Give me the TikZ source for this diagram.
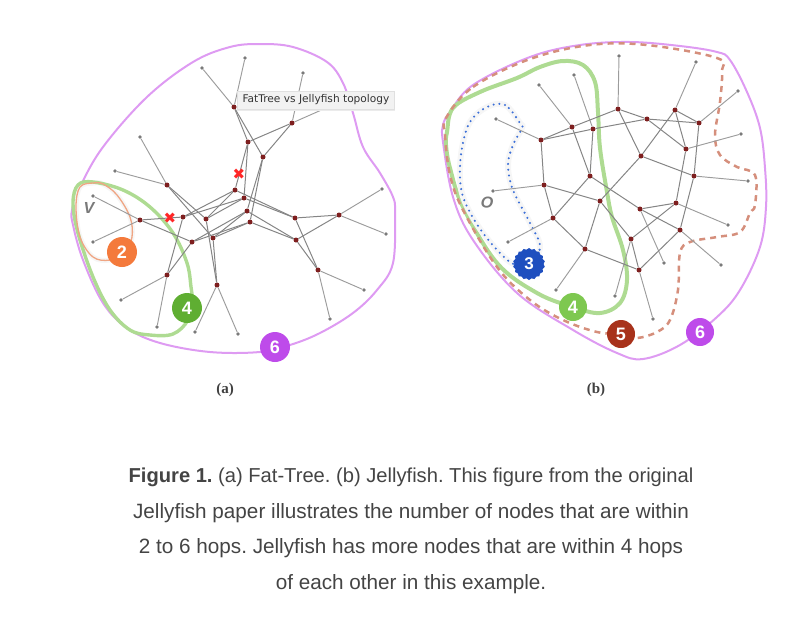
\documentclass[tikz,border=0pt]{standalone}
\usepackage{fontspec}
\setmainfont{Liberation Sans}
\newfontfamily\serifcap{Liberation Serif}
\newfontfamily\tipfont{DejaVu Sans}
\usetikzlibrary{shapes.geometric,shadows}
\frenchspacing
\definecolor{edgegray}{HTML}{858585}
\definecolor{leaflink}{HTML}{9C9C9C}
\definecolor{leafgray}{HTML}{7A7A7A}
\definecolor{coredot}{HTML}{7E1F1F}
\definecolor{hopviolet}{HTML}{DE9BF2}
\definecolor{hopgreen}{HTML}{AEDB92}
\definecolor{hoporange}{HTML}{EFA583}
\definecolor{hopbrown}{HTML}{D58F7C}
\definecolor{hopblue}{HTML}{3B6FD8}
\definecolor{softhalo}{HTML}{F6F6F6}
\definecolor{captext}{HTML}{444444}
\definecolor{bOrange}{HTML}{F47A3C}
\definecolor{bGreenA}{HTML}{5FAE32}
\definecolor{bGreenB}{HTML}{7EC850}
\definecolor{bViolet}{HTML}{BE4BEA}
\definecolor{bBlue}{HTML}{1F4FBF}
\definecolor{bBrown}{HTML}{A8321B}
\tikzset{
  x=1pt,y=-1pt,
  coresw/.style={circle,fill=coredot,inner sep=0pt,minimum size=5pt},
  leafsw/.style={circle,fill=leafgray,inner sep=0pt,minimum size=3.8pt},
  link/.style={draw=edgegray,line width=1pt},
  leaflinkline/.style={draw=leaflink,line width=0.95pt},
  badge/.style={circle,inner sep=0pt,minimum size=#1,text=white,font=\bfseries\fontsize{18}{18}\selectfont},
  badge/.default=30pt,
  hoplabel/.style={text=leafgray,font=\itshape\bfseries\fontsize{16}{16}\selectfont},
  subcap/.style={text=black!75,font=\serifcap\bfseries\fontsize{15}{15}\selectfont},
  capline/.style={anchor=base,text=captext,font=\fontsize{20.7}{22}\selectfont},
  capfirst/.style={capline,font=\fontsize{20.15}{22}\selectfont},
  crossmark/.style={text=red!85!white,font=\bfseries\fontsize{15}{15}\selectfont},
  tipbox/.style={draw=black!12,fill=black!5,inner xsep=5pt,inner ysep=0pt,minimum height=18pt,
    font=\tipfont\fontsize{10.6}{12}\selectfont,text=black!80,
    copy shadow={shadow xshift=0pt,shadow yshift=-1pt,draw=black!8,fill=black!8}},
}
\begin{document}
\begin{tikzpicture}
\useasboundingbox (0,0) rectangle (796,619);
% ---------- hop regions (a)
\draw[hopviolet,line width=2pt] plot[smooth cycle,tension=0.6] coordinates {
 (72,210)(80,187)(103,147)(147,97)(193,62)(230,47)(260,44)(293,47)(327,62)(343,83)(353,113)(363,147)(380,173)(393,197)(395,213)(393,263)(377,290)(353,313)(320,333)(290,345)(260,352)(210,352)(160,343)(127,328)(103,303)(83,260)(73,225)};
\draw[softhalo,line width=5pt] plot[smooth cycle,tension=0.6] coordinates {
 (93,183)(80,187)(76,207)(80,237)(93,257)(110,260)(125,252)(132,237)(130,217)(117,195)(103,184)};
\draw[hopgreen,line width=3.4pt] plot[smooth cycle,tension=0.6] coordinates {
 (191,287)(187,263)(173,233)(150,207)(123,190)(93,182)(78,185)(73,203)(78,233)(93,277)(110,310)(130,330)(150,335)(173,334)(188,320)(192,300)};
\draw[hoporange,line width=1.3pt] plot[smooth cycle,tension=0.6] coordinates {
 (93,183)(80,187)(76,207)(80,237)(93,257)(110,260)(125,252)(132,237)(130,217)(117,195)(103,184)};
% ---------- hop regions (b)
\draw[hopviolet,line width=2pt] plot[smooth cycle,tension=0.6] coordinates {
 (443,125)(450,112)(473,85)(530,57)(580,45)(630,42)(680,46)(717,52)(730,60)(747,92)(760,128)(765,168)(766,207)(760,247)(740,290)(717,317)(680,345)(643,359)(617,353)(573,330)(517,293)(473,240)(453,197)(443,142)};
\draw[hopgreen,line width=4pt] plot[smooth cycle,tension=0.6] coordinates {
 (447,132)(453,108)(480,92)(517,78)(540,67)(563,61)(583,65)(595,82)(598,112)(600,148)(607,192)(612,217)(623,250)(627,280)(620,303)(600,313)(573,307)(537,293)(497,263)(463,207)(450,168)(446,145)};
\draw[hopbrown,line width=2.5pt,dash pattern=on 6pt off 5pt] plot[smooth cycle,tension=0.6] coordinates {
 (446,118)(473,87)(530,59)(590,45)(647,45)(717,58)(722,72)(720,102)(715,135)(720,155)(737,167)(755,175)(755,205)(750,213)(740,232)(717,237)(690,242)(680,253)(678,290)(670,320)(657,332)(637,338)(621,334)(597,332)(563,320)(530,300)(497,267)(463,210)(450,175)(445,135)};
\draw[softhalo,line width=6pt] plot[smooth cycle,tension=0.6] coordinates {
 (520,123)(505,105)(487,107)(470,122)(462,148)(460,178)(465,202)(483,233)(510,262)(529,264)(540,247)(530,223)(513,190)(508,165)(513,145)(522,128)};
\draw[hopblue,line width=2.3pt,line cap=round,dash pattern=on 0pt off 5.8pt] plot[smooth cycle,tension=0.6] coordinates {
 (520,123)(505,105)(487,107)(470,122)(462,148)(460,178)(465,202)(483,233)(510,262)(529,264)(540,247)(530,223)(513,190)(508,165)(513,145)(522,128)};
% ---------- switches (a)
\foreach \n/\x/\y in {a1/234/107,a2/292/123,a3/248/142,a4/263/157,a5/167/185,a6/235/190,a7/244/198,a8/247/211,a9/250/222,a10/206/219,a11/183/217,a12/140/220,a13/192/242,a14/213/238,a15/295/218,a16/296/240,a17/339/215,a18/318/270,a19/167/275,a20/217/285}
  \node[coresw] (\n) at (\x,\y) {};
\foreach \n/\x/\y in {p1/202/68,p2/245/58,p3/303/73,p4/326/108,p5/140/137,p6/115/171,p7/93/196,p8/93/242,p9/121/300,p10/157/327,p11/195/332,p12/238/334,p13/330/319,p14/364/290,p15/386/234,p16/382/189}
  \node[leafsw] (\n) at (\x,\y) {};
\foreach \s/\t in {a1/p1,a1/p2,a2/p3,a2/p4,a5/p5,a5/p6,a12/p7,a12/p8,a19/p9,a19/p10,a20/p11,a20/p12,a18/p13,a18/p14,a17/p15,a17/p16}
  \draw[leaflinkline] (\s) -- (\t);
\foreach \s/\t in {a1/a3,a1/a4,a2/a3,a2/a4,a3/a6,a3/a7,a4/a8,a4/a9,a5/a10,a5/a14,a12/a11,a12/a13,
  a11/a6,a11/a7,a10/a6,a10/a7,a13/a8,a13/a9,a14/a8,a14/a9,
  a6/a15,a7/a15,a8/a16,a9/a16,a15/a17,a16/a17,a15/a18,a16/a18,a11/a19,a13/a19,a10/a20,a14/a20}
  \draw[link] (\s) -- (\t);
% ---------- switches (b)
\foreach \n/\x/\y in {b1/618/109,b2/647/119,b3/675/110,b4/699/123,b5/572/127,b6/593/129,b7/541/140,b8/686/149,b9/641/156,b10/590/176,b11/694/176,b12/544/185,b13/600/201,b14/676/203,b15/640/209,b16/553/218,b17/680/230,b18/631/239,b19/585/249,b20/639/270}
  \node[coresw] (\n) at (\x,\y) {};
\foreach \n/\x/\y in {m1/619/56,m2/696/62,m3/738/91,m4/741/134,m5/748/181,m6/574/75,m7/539/85,m8/496/119,m9/493/191,m10/728/225,m11/721/265,m12/664/263,m13/653/319,m14/615/296,m15/556/290,m16/508/242}
  \node[leafsw] (\n) at (\x,\y) {};
\foreach \s/\t in {b1/m1,b3/m2,b4/m3,b8/m4,b11/m5,b6/m6,b5/m7,b7/m8,b12/m9,b14/m10,b17/m11,b15/m12,b20/m13,b18/m14,b19/m15,b16/m16}
  \draw[leaflinkline] (\s) -- (\t);
\foreach \s/\t in {b7/b5,b7/b6,b5/b1,b6/b2,b1/b2,b2/b4,b1/b9,b3/b4,b3/b8,b3/b9,b2/b8,b4/b11,b8/b14,b9/b11,b9/b13,b5/b10,b6/b10,b10/b16,b10/b15,b7/b12,b12/b13,b12/b16,
  b13/b19,b13/b18,b16/b19,b14/b15,b14/b18,b15/b17,b11/b17,b17/b20,b18/b20,b19/b20}
  \draw[link] (\s) -- (\t);
% ---------- failed links
\node[crossmark] (x1) at (239,174) {\tipfont ✖};
\node[crossmark] (x2) at (170,218) {\tipfont ✖};
% ---------- badges
\node[badge,fill=bOrange] (h2) at (122,252) {2};
\node[badge,fill=bGreenA] (h4a) at (187,308) {4};
\node[badge,fill=bViolet] (h6a) at (275,347) {6};
\node[star,star points=18,star point ratio=1.1,inner sep=0pt,minimum size=32pt,fill=bBlue,text=white,font=\bfseries\fontsize{17}{17}\selectfont] (h3) at (529,264) {3};
\node[badge=28pt,fill=bGreenB] (h4b) at (573,307) {4};
\node[badge=28pt,fill=bBrown] (h5) at (621,334) {5};
\node[badge=28pt,fill=bViolet] (h6b) at (700,332) {6};
\node[hoplabel] (v) at (89,208) {V};
\node[hoplabel,rotate=-5] (o) at (487,203) {O};
% ---------- tooltip
\node[tipbox] (tip) at (316,100) {FatTree vs Jellyfish topology};
% ---------- captions
\node[subcap] (ca) at (225,390) {(a)};
\node[subcap] (cb) at (596,390) {(b)};
\node[capfirst] (l1) at (411,482) {\textbf{Figure 1.} (a) Fat-Tree. (b) Jellyfish. This figure from the original};
\node[capline] (l2) at (411,518) {Jellyfish paper illustrates the number of nodes that are within};
\node[capline] (l3) at (411,553.5) {2 to 6 hops. Jellyfish has more nodes that are within 4 hops};
\node[capline] (l4) at (411,589) {of each other in this example.};
\end{tikzpicture}
\end{document}
